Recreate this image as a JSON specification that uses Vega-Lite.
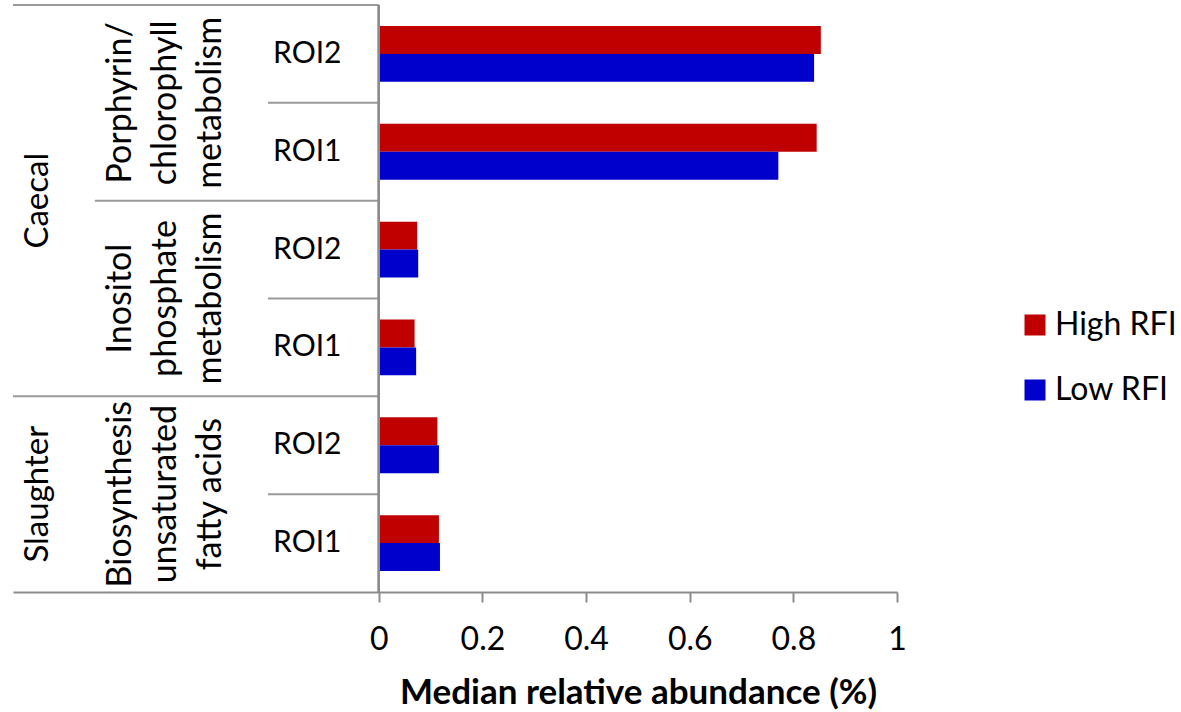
{
  "$schema": "https://vega.github.io/schema/vega-lite/v6.json",
  "autosize": "none",
  "padding": {"left": 13, "top": 5, "right": 284, "bottom": 120},
  "width": 884,
  "height": 587,
  "background": "white",
  "config": {
    "view": {"stroke": null},
    "font": "Lato",
    "text": {"font": "Lato", "fontSize": 30, "color": "black"}
  },
  "datasets": {
    "bars": [
      {"row": "P-ROI2", "series": "High RFI", "value": 0.853},
      {"row": "P-ROI2", "series": "Low RFI", "value": 0.840},
      {"row": "P-ROI1", "series": "High RFI", "value": 0.845},
      {"row": "P-ROI1", "series": "Low RFI", "value": 0.771},
      {"row": "I-ROI2", "series": "High RFI", "value": 0.074},
      {"row": "I-ROI2", "series": "Low RFI", "value": 0.076},
      {"row": "I-ROI1", "series": "High RFI", "value": 0.069},
      {"row": "I-ROI1", "series": "Low RFI", "value": 0.072},
      {"row": "B-ROI2", "series": "High RFI", "value": 0.113},
      {"row": "B-ROI2", "series": "Low RFI", "value": 0.116},
      {"row": "B-ROI1", "series": "High RFI", "value": 0.116},
      {"row": "B-ROI1", "series": "Low RFI", "value": 0.118}
    ],
    "rows": [
      {"row": "P-ROI2", "roi": "ROI2", "from": -0.706},
      {"row": "P-ROI1", "roi": "ROI1", "from": -0.214},
      {"row": "I-ROI2", "roi": "ROI2", "from": -0.548},
      {"row": "I-ROI1", "roi": "ROI1", "from": -0.214},
      {"row": "B-ROI2", "roi": "ROI2", "from": -0.706},
      {"row": "B-ROI1", "roi": "ROI1", "from": -0.214}
    ],
    "pathways": [
      {"mid": "P-ROI1", "name": ["Porphyrin/", "chlorophyll", "metabolism"]},
      {"mid": "I-ROI1", "name": ["Inositol", "phosphate", "metabolism"]},
      {"mid": "B-ROI1", "name": ["Biosynthesis", "unsaturated", "fatty acids"]}
    ],
    "groups": [
      {"mid": "I-ROI2", "name": "Caecal"},
      {"mid": "B-ROI1", "name": "Slaughter"}
    ]
  },
  "layer": [
    {
      "data": {"name": "bars"},
      "mark": {"type": "bar"},
      "encoding": {
        "y": {
          "field": "row", "type": "nominal",
          "scale": {"domain": ["P-ROI2", "P-ROI1", "I-ROI2", "I-ROI1", "B-ROI2", "B-ROI1"], "paddingInner": 0, "paddingOuter": 0},
          "axis": null
        },
        "yOffset": {
          "field": "series", "type": "nominal",
          "scale": {"domain": ["High RFI", "Low RFI"], "paddingInner": 0, "paddingOuter": 0.75}
        },
        "x": {
          "field": "value", "type": "quantitative",
          "scale": {"domain": [-0.706, 1], "nice": false, "zero": false},
          "axis": {
            "values": [0, 0.2, 0.4, 0.6, 0.8, 1],
            "format": "~g",
            "grid": false,
            "domainColor": "#8c8c8c",
            "domainWidth": 2,
            "tickColor": "#8c8c8c",
            "tickWidth": 2,
            "tickSize": 10,
            "labelFont": "Lato",
            "labelFontSize": 32,
            "labelColor": "black",
            "labelPadding": 22,
            "labelFlush": false,
            "title": "Median relative abundance (%)",
            "titleFont": "Lato",
            "titleFontSize": 35,
            "titleFontWeight": "bold",
            "titleColor": "black",
            "titleX": 625,
            "titleY": 111,
            "titleBaseline": "alphabetic"
          }
        },
        "color": {
          "field": "series", "type": "nominal",
          "scale": {"domain": ["High RFI", "Low RFI"], "range": ["#C00000", "#0000CC"]},
          "legend": {
            "title": null,
            "orient": "none",
            "legendX": 1006,
            "legendY": 304,
            "symbolType": "square",
            "symbolSize": 441,
            "symbolStrokeWidth": 0,
            "labelFont": "Lato",
            "labelFontSize": 32,
            "labelColor": "black",
            "labelOffset": 4,
            "rowPadding": 33
          }
        }
      }
    },
    {
      "data": {"name": "rows"},
      "mark": {"type": "rule", "color": "#9a9a9a", "strokeWidth": 2},
      "encoding": {
        "y": {"field": "row", "type": "nominal", "bandPosition": 0},
        "x": {"field": "from", "type": "quantitative"},
        "x2": {"datum": 0}
      }
    },
    {
      "data": {"name": "rows"},
      "mark": {"type": "rule", "color": "#8c8c8c", "strokeWidth": 2},
      "encoding": {"x": {"datum": 0}}
    },
    {
      "data": {"name": "rows"},
      "mark": {"type": "text", "align": "center", "baseline": "middle", "fontSize": 30},
      "encoding": {
        "y": {"field": "row", "type": "nominal"},
        "x": {"datum": -0.138},
        "text": {"field": "roi"}
      }
    },
    {
      "data": {"name": "pathways"},
      "mark": {"type": "text", "align": "center", "baseline": "middle", "angle": 270, "lineHeight": 45, "fontSize": 34},
      "encoding": {
        "y": {"field": "mid", "type": "nominal", "bandPosition": 0},
        "x": {"datum": -0.498},
        "text": {"field": "name"}
      }
    },
    {
      "data": {"name": "groups"},
      "mark": {"type": "text", "align": "center", "baseline": "middle", "angle": 270, "fontSize": 33},
      "encoding": {
        "y": {"field": "mid", "type": "nominal", "bandPosition": 0},
        "x": {"datum": -0.658},
        "text": {"field": "name"}
      }
    }
  ]
}
